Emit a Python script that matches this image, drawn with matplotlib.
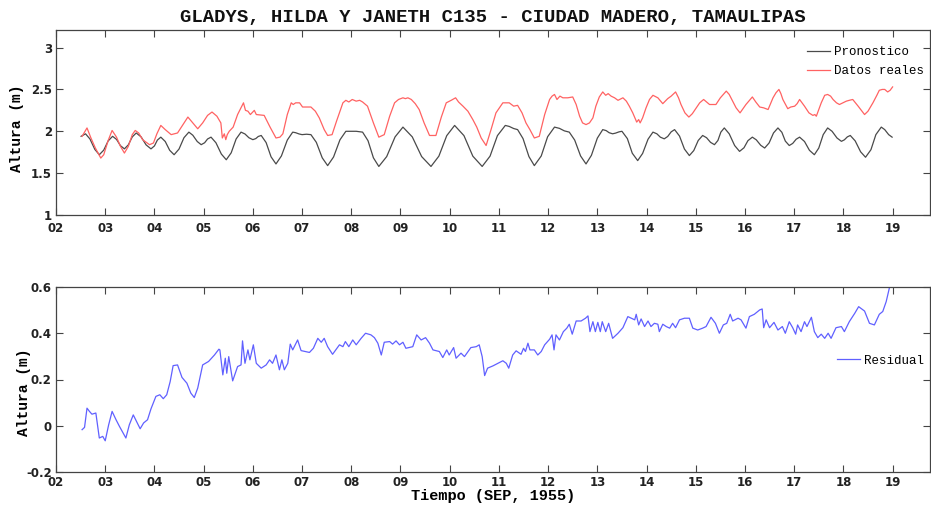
import matplotlib
matplotlib.use("Agg")
import matplotlib.pyplot as plt

# ---------------- data (days of September 1955) ----------------
pred_t = [2.51, 2.60, 2.69, 2.79, 2.88, 2.97, 3.06, 3.15, 3.23, 3.31,
          3.39, 3.47, 3.55, 3.63, 3.73, 3.83, 3.93, 4.00, 4.06, 4.13,
          4.22, 4.31, 4.40, 4.50, 4.60, 4.70, 4.78, 4.87, 4.95, 5.02,
          5.08, 5.15, 5.25, 5.36, 5.46, 5.56, 5.66, 5.76, 5.84, 5.92,
          6.00, 6.06, 6.11, 6.17, 6.27, 6.37, 6.47, 6.58, 6.70, 6.81,
          6.87, 6.94, 7.00, 7.09, 7.18, 7.29, 7.41, 7.52, 7.64, 7.77,
          7.89, 8.10, 8.23, 8.34, 8.45, 8.56, 8.72, 8.89, 9.05, 9.24,
          9.43, 9.62, 9.78, 9.94, 10.10, 10.29, 10.47, 10.66, 10.82, 10.97,
          11.13, 11.21, 11.30, 11.38, 11.49, 11.61, 11.72, 11.86, 11.99, 12.13,
          12.23, 12.33, 12.43, 12.54, 12.66, 12.77, 12.88, 13.00, 13.11, 13.18,
          13.24, 13.31, 13.37, 13.44, 13.50, 13.61, 13.71, 13.82, 13.92, 14.03,
          14.13, 14.21, 14.28, 14.36, 14.43, 14.50, 14.57, 14.67, 14.77, 14.87,
          14.96, 15.05, 15.14, 15.22, 15.30, 15.38, 15.45, 15.51, 15.58, 15.68,
          15.79, 15.89, 15.98, 16.06, 16.15, 16.23, 16.32, 16.40, 16.49, 16.58,
          16.67, 16.75, 16.82, 16.90, 16.97, 17.04, 17.11, 17.21, 17.31, 17.41,
          17.50, 17.59, 17.68, 17.77, 17.87, 17.96, 18.02, 18.08, 18.14, 18.24,
          18.35, 18.45, 18.56, 18.66, 18.77, 18.84, 18.92, 18.99]
pred_v = [1.94, 1.97, 1.908, 1.783, 1.72, 1.775, 1.885, 1.94, 1.903, 1.828,
          1.79, 1.838, 1.933, 1.98, 1.933, 1.838, 1.79, 1.825, 1.895, 1.93,
          1.878, 1.773, 1.72, 1.788, 1.923, 1.99, 1.953, 1.878, 1.84, 1.863,
          1.908, 1.93, 1.863, 1.728, 1.66, 1.743, 1.908, 1.99, 1.968, 1.923,
          1.90, 1.913, 1.938, 1.95, 1.865, 1.695, 1.61, 1.705, 1.895, 1.99,
          1.983, 1.968, 1.96, 1.965, 1.96, 1.868, 1.683, 1.59, 1.693, 1.898,
          2.00, 2.00, 1.99, 1.888, 1.683, 1.58, 1.698, 1.933, 2.05, 1.933,
          1.698, 1.58, 1.703, 1.948, 2.07, 1.948, 1.703, 1.58, 1.703, 1.948,
          2.07, 2.058, 2.033, 2.02, 1.913, 1.698, 1.59, 1.705, 1.935, 2.05,
          2.035, 2.005, 1.99, 1.895, 1.705, 1.61, 1.713, 1.918, 2.02, 2.008,
          1.983, 1.97, 1.978, 1.993, 2.00, 1.913, 1.738, 1.65, 1.735, 1.905,
          1.99, 1.97, 1.93, 1.91, 1.938, 1.993, 2.02, 1.943, 1.788, 1.71,
          1.77, 1.89, 1.95, 1.923, 1.868, 1.84, 1.89, 1.99, 2.04, 1.97,
          1.83, 1.76, 1.803, 1.888, 1.93, 1.898, 1.833, 1.80, 1.86, 1.98,
          2.04, 1.988, 1.883, 1.83, 1.855, 1.905, 1.93, 1.878, 1.773, 1.72,
          1.80, 1.96, 2.04, 2.00, 1.92, 1.88, 1.898, 1.933, 1.95, 1.885,
          1.755, 1.69, 1.78, 1.96, 2.05, 2.02, 1.96, 1.93]

obs_t = [2.53, 2.63, 2.71, 2.80, 2.91, 2.97, 3.06, 3.14, 3.23, 3.31,
         3.39, 3.47, 3.55, 3.61, 3.68, 3.76, 3.90, 3.98, 4.05, 4.13,
         4.22, 4.34, 4.47, 4.58, 4.68, 4.78, 4.88, 4.98, 5.08, 5.17,
         5.27, 5.35, 5.38, 5.42, 5.45, 5.48, 5.52, 5.60, 5.69, 5.76,
         5.81, 5.85, 5.90, 5.95, 6.03, 6.07, 6.23, 6.35, 6.47, 6.55,
         6.61, 6.70, 6.78, 6.82, 6.87, 6.95, 7.01, 7.18, 7.27, 7.35,
         7.45, 7.52, 7.61, 7.70, 7.83, 7.89, 7.95, 8.02, 8.10, 8.17,
         8.23, 8.33, 8.45, 8.56, 8.67, 8.78, 8.88, 8.96, 9.05, 9.10,
         9.15, 9.22, 9.30, 9.38, 9.48, 9.59, 9.72, 9.83, 9.93, 10.03,
         10.12, 10.18, 10.27, 10.37, 10.47, 10.55, 10.64, 10.74, 10.84, 10.94,
         11.08, 11.21, 11.30, 11.38, 11.47, 11.55, 11.63, 11.72, 11.82, 11.93,
         12.03, 12.08, 12.13, 12.18, 12.24, 12.30, 12.40, 12.50, 12.57, 12.64,
         12.70, 12.77, 12.84, 12.91, 12.97, 13.04, 13.11, 13.17, 13.22, 13.28,
         13.35, 13.42, 13.52, 13.59, 13.65, 13.72, 13.80, 13.84, 13.87, 13.92,
         13.99, 14.06, 14.13, 14.23, 14.33, 14.43, 14.50, 14.59, 14.65, 14.70,
         14.78, 14.86, 14.93, 15.01, 15.08, 15.16, 15.28, 15.41, 15.50, 15.62,
         15.68, 15.75, 15.82, 15.90, 16.02, 16.15, 16.22, 16.30, 16.38, 16.47,
         16.52, 16.57, 16.63, 16.69, 16.73, 16.77, 16.87, 16.93, 17.01, 17.06,
         17.11, 17.16, 17.21, 17.30, 17.38, 17.42, 17.45, 17.55, 17.62, 17.68,
         17.74, 17.79, 17.86, 17.92, 17.99, 18.06, 18.12, 18.19, 18.30, 18.43,
         18.50, 18.60, 18.68, 18.73, 18.79, 18.84, 18.90, 18.95, 19.00]
obs_v = [1.94, 2.04, 1.92, 1.80, 1.68, 1.72, 1.89, 2.01, 1.93, 1.82,
         1.74, 1.82, 1.96, 2.01, 1.98, 1.90, 1.84, 1.86, 1.97, 2.07,
         2.02, 1.96, 1.98, 2.08, 2.17, 2.10, 2.03, 2.10, 2.19, 2.23,
         2.18, 2.10, 1.92, 1.97, 1.90, 1.96, 2.00, 2.05, 2.20, 2.28,
         2.34, 2.25, 2.24, 2.20, 2.25, 2.20, 2.19, 2.05, 1.92, 1.93,
         1.97, 2.20, 2.34, 2.32, 2.34, 2.34, 2.29, 2.29, 2.24, 2.16,
         2.02, 1.95, 1.96, 2.12, 2.34, 2.37, 2.35, 2.38, 2.36, 2.37,
         2.35, 2.30, 2.10, 1.93, 1.96, 2.18, 2.34, 2.38, 2.40, 2.39,
         2.40, 2.38, 2.33, 2.26, 2.10, 1.95, 1.95, 2.17, 2.34, 2.37,
         2.40, 2.35, 2.30, 2.24, 2.14, 2.05, 1.92, 1.83, 2.02, 2.22,
         2.34, 2.34, 2.30, 2.31, 2.22, 2.10, 2.02, 1.92, 1.94, 2.20,
         2.38, 2.42, 2.44, 2.38, 2.42, 2.40, 2.40, 2.41, 2.32, 2.18,
         2.10, 2.08, 2.10, 2.16, 2.30, 2.41, 2.47, 2.43, 2.45, 2.42,
         2.40, 2.37, 2.40, 2.36, 2.30, 2.22, 2.11, 2.14, 2.10, 2.16,
         2.28, 2.38, 2.43, 2.40, 2.33, 2.39, 2.42, 2.47, 2.40, 2.32,
         2.22, 2.17, 2.21, 2.28, 2.34, 2.38, 2.32, 2.32, 2.40, 2.48,
         2.44, 2.36, 2.28, 2.22, 2.32, 2.41, 2.35, 2.29, 2.28, 2.26,
         2.33, 2.40, 2.46, 2.50, 2.45, 2.38, 2.27, 2.29, 2.30, 2.33,
         2.38, 2.34, 2.30, 2.22, 2.19, 2.20, 2.18, 2.34, 2.43, 2.44,
         2.42, 2.38, 2.34, 2.32, 2.34, 2.36, 2.37, 2.38, 2.30, 2.20,
         2.24, 2.34, 2.43, 2.49, 2.50, 2.50, 2.47, 2.49, 2.53]

res_t = [2.53, 2.58, 2.63, 2.68, 2.73, 2.81, 2.88, 2.95, 3.00, 3.07,
         3.14, 3.22, 3.29, 3.42, 3.49, 3.57, 3.71, 3.78, 3.86, 3.93,
         4.03, 4.11, 4.18, 4.25, 4.32, 4.38, 4.47, 4.56, 4.66, 4.74,
         4.81, 4.88, 4.98, 5.10, 5.22, 5.31, 5.33, 5.39, 5.44, 5.47,
         5.51, 5.59, 5.69, 5.76, 5.79, 5.84, 5.90, 5.94, 6.01, 6.07,
         6.17, 6.27, 6.34, 6.40, 6.47, 6.54, 6.59, 6.64, 6.71, 6.76,
         6.81, 6.86, 6.91, 6.98, 7.15, 7.23, 7.32, 7.39, 7.45, 7.52,
         7.62, 7.76, 7.83, 7.88, 7.95, 8.03, 8.10, 8.20, 8.29, 8.40,
         8.47, 8.54, 8.61, 8.67, 8.78, 8.84, 8.91, 8.98, 9.05, 9.11,
         9.25, 9.33, 9.42, 9.51, 9.59, 9.66, 9.79, 9.86, 9.94, 9.99,
         10.08, 10.13, 10.23, 10.30, 10.43, 10.54, 10.60, 10.66, 10.71, 10.77,
         10.88, 10.98, 11.08, 11.15, 11.20, 11.28, 11.35, 11.45, 11.50, 11.54,
         11.59, 11.63, 11.72, 11.79, 11.86, 11.93, 12.03, 12.08, 12.12, 12.16,
         12.23, 12.31, 12.38, 12.43, 12.49, 12.57, 12.67, 12.76, 12.81, 12.85,
         12.91, 12.96, 13.01, 13.06, 13.10, 13.17, 13.23, 13.31, 13.42, 13.52,
         13.62, 13.69, 13.76, 13.79, 13.84, 13.89, 13.96, 14.03, 14.09, 14.16,
         14.23, 14.26, 14.33, 14.40, 14.47, 14.53, 14.59, 14.67, 14.77, 14.87,
         14.94, 15.04, 15.14, 15.21, 15.31, 15.40, 15.48, 15.56, 15.63, 15.70,
         15.75, 15.86, 15.92, 16.02, 16.09, 16.19, 16.30, 16.35, 16.38, 16.43,
         16.50, 16.59, 16.67, 16.76, 16.82, 16.90, 16.97, 17.03, 17.07, 17.14,
         17.21, 17.26, 17.35, 17.41, 17.48, 17.55, 17.62, 17.69, 17.75, 17.85,
         17.96, 18.02, 18.12, 18.23, 18.31, 18.43, 18.53, 18.63, 18.73, 18.80,
         18.87, 18.94, 18.99]
res_v = [-0.017, -0.007, 0.076, 0.062, 0.050, 0.055, -0.053, -0.046, -0.065, 0.004,
         0.062, 0.026, -0.003, -0.053, 0.004, 0.047, -0.013, 0.012, 0.026, 0.073,
         0.127, 0.134, 0.117, 0.134, 0.191, 0.260, 0.263, 0.209, 0.184, 0.141,
         0.122, 0.163, 0.263, 0.278, 0.306, 0.331, 0.328, 0.220, 0.292, 0.227,
         0.299, 0.194, 0.256, 0.263, 0.367, 0.270, 0.328, 0.285, 0.350, 0.270,
         0.249, 0.263, 0.285, 0.270, 0.306, 0.242, 0.285, 0.242, 0.270, 0.353,
         0.328, 0.350, 0.371, 0.325, 0.317, 0.335, 0.378, 0.361, 0.378, 0.342,
         0.309, 0.350, 0.342, 0.364, 0.342, 0.371, 0.350, 0.378, 0.400, 0.393,
         0.381, 0.357, 0.306, 0.361, 0.364, 0.353, 0.367, 0.350, 0.361, 0.335,
         0.342, 0.393, 0.371, 0.381, 0.357, 0.328, 0.321, 0.295, 0.328, 0.306,
         0.338, 0.292, 0.314, 0.299, 0.338, 0.342, 0.350, 0.299, 0.217, 0.249,
         0.259, 0.270, 0.281, 0.270, 0.249, 0.306, 0.324, 0.309, 0.335, 0.321,
         0.357, 0.328, 0.328, 0.306, 0.321, 0.350, 0.374, 0.393, 0.328, 0.393,
         0.371, 0.407, 0.422, 0.439, 0.396, 0.453, 0.453, 0.465, 0.475, 0.407,
         0.450, 0.407, 0.447, 0.407, 0.450, 0.407, 0.443, 0.378, 0.400, 0.424,
         0.472, 0.465, 0.458, 0.482, 0.436, 0.462, 0.429, 0.453, 0.429, 0.443,
         0.439, 0.407, 0.439, 0.429, 0.422, 0.443, 0.424, 0.458, 0.465, 0.465,
         0.422, 0.414, 0.422, 0.429, 0.469, 0.443, 0.400, 0.436, 0.443, 0.482,
         0.453, 0.465, 0.458, 0.422, 0.472, 0.482, 0.501, 0.505, 0.424, 0.458,
         0.424, 0.447, 0.414, 0.429, 0.400, 0.450, 0.424, 0.396, 0.436, 0.407,
         0.450, 0.429, 0.469, 0.407, 0.381, 0.396, 0.378, 0.400, 0.378, 0.424,
         0.429, 0.407, 0.450, 0.486, 0.515, 0.496, 0.443, 0.436, 0.482, 0.494,
         0.537, 0.601, 0.637]

day_ticks = list(range(2, 20))
day_labels = ["%02d" % d for d in day_ticks]
top_yticks = [1, 1.5, 2, 2.5, 3]
top_ylabels = ["1", "1.5", "2", "2.5", "3"]
bot_yticks = [-0.2, 0, 0.2, 0.4, 0.6]
bot_ylabels = ["-0.2", "0", "0.2", "0.4", "0.6"]

title = "GLADYS, HILDA Y JANETH C135 - CIUDAD MADERO, TAMAULIPAS"

# ---------------- styling ----------------
MONO = "Liberation Mono"
TICKFONT = "DejaVu Sans"
SPINE = "#444444"
W, H = 931, 508
fig = plt.figure(figsize=(W / 100, H / 100), dpi=100)

def px_axes(left, top, right, bottom):
    return fig.add_axes([left / W, 1 - bottom / H, (right - left) / W, (bottom - top) / H])

ax1 = px_axes(56, 30, 930, 215)
ax2 = px_axes(56, 287, 930, 472)

def style(ax, yticks, ylabels, ylim, xpad):
    ax.set_xlim(2, 19.76)
    ax.set_ylim(*ylim)
    ax.set_xticks(day_ticks)
    ax.set_xticklabels(day_labels)
    ax.set_yticks(yticks)
    ax.set_yticklabels(ylabels)
    ax.tick_params(direction="in", top=True, right=True, length=5, width=0.8,
                   color=SPINE, labelsize=8.5, labelcolor="#222222", pad=3)
    ax.tick_params(axis="x", pad=xpad)
    for lab in ax.get_xticklabels() + ax.get_yticklabels():
        lab.set_family(TICKFONT)
        lab.set_fontweight("bold")
    for s in ax.spines.values():
        s.set_color(SPINE)
        s.set_linewidth(0.9)

ax1.plot(pred_t, pred_v, color="#4a4a4a", lw=0.9, label="Pronostico")
ax1.plot(obs_t, obs_v, color="#ff6262", lw=0.9, label="Datos reales")
style(ax1, top_yticks, top_ylabels, (1, 3.21), 5)
ax1.set_title(title, family=MONO, fontweight="bold", fontsize=13.6, pad=6, color="#111111")
ax1.set_ylabel("Altura (m)", family=MONO, fontweight="bold", fontsize=10.5)
ax1.yaxis.set_label_coords((24 - 56) / 874, (215 - 128) / 185)
ax1.legend(loc="upper left", bbox_to_anchor=(0.859, 0.911), frameon=False,
           borderpad=0, borderaxespad=0, handlelength=1.85, handletextpad=0.3,
           labelspacing=0.55, prop={"family": MONO, "size": 9})

ax2.plot(res_t, res_v, color="#6060ff", lw=0.9, label="Residual")
style(ax2, bot_yticks, bot_ylabels, (-0.2, 0.6), 3)
ax2.set_ylabel("Altura (m)", family=MONO, fontweight="bold", fontsize=10.5)
ax2.yaxis.set_label_coords((31 - 56) / 874, (472 - 392) / 185)
ax2.set_xlabel("Tiempo (SEP, 1955)", family=MONO, fontweight="bold", fontsize=11, labelpad=0)
ax2.legend(loc="upper left", bbox_to_anchor=(0.894, 0.635), frameon=False,
           borderpad=0, borderaxespad=0, handlelength=1.85, handletextpad=0.3,
           prop={"family": MONO, "size": 9})

fig.savefig("out.png", dpi=100)
